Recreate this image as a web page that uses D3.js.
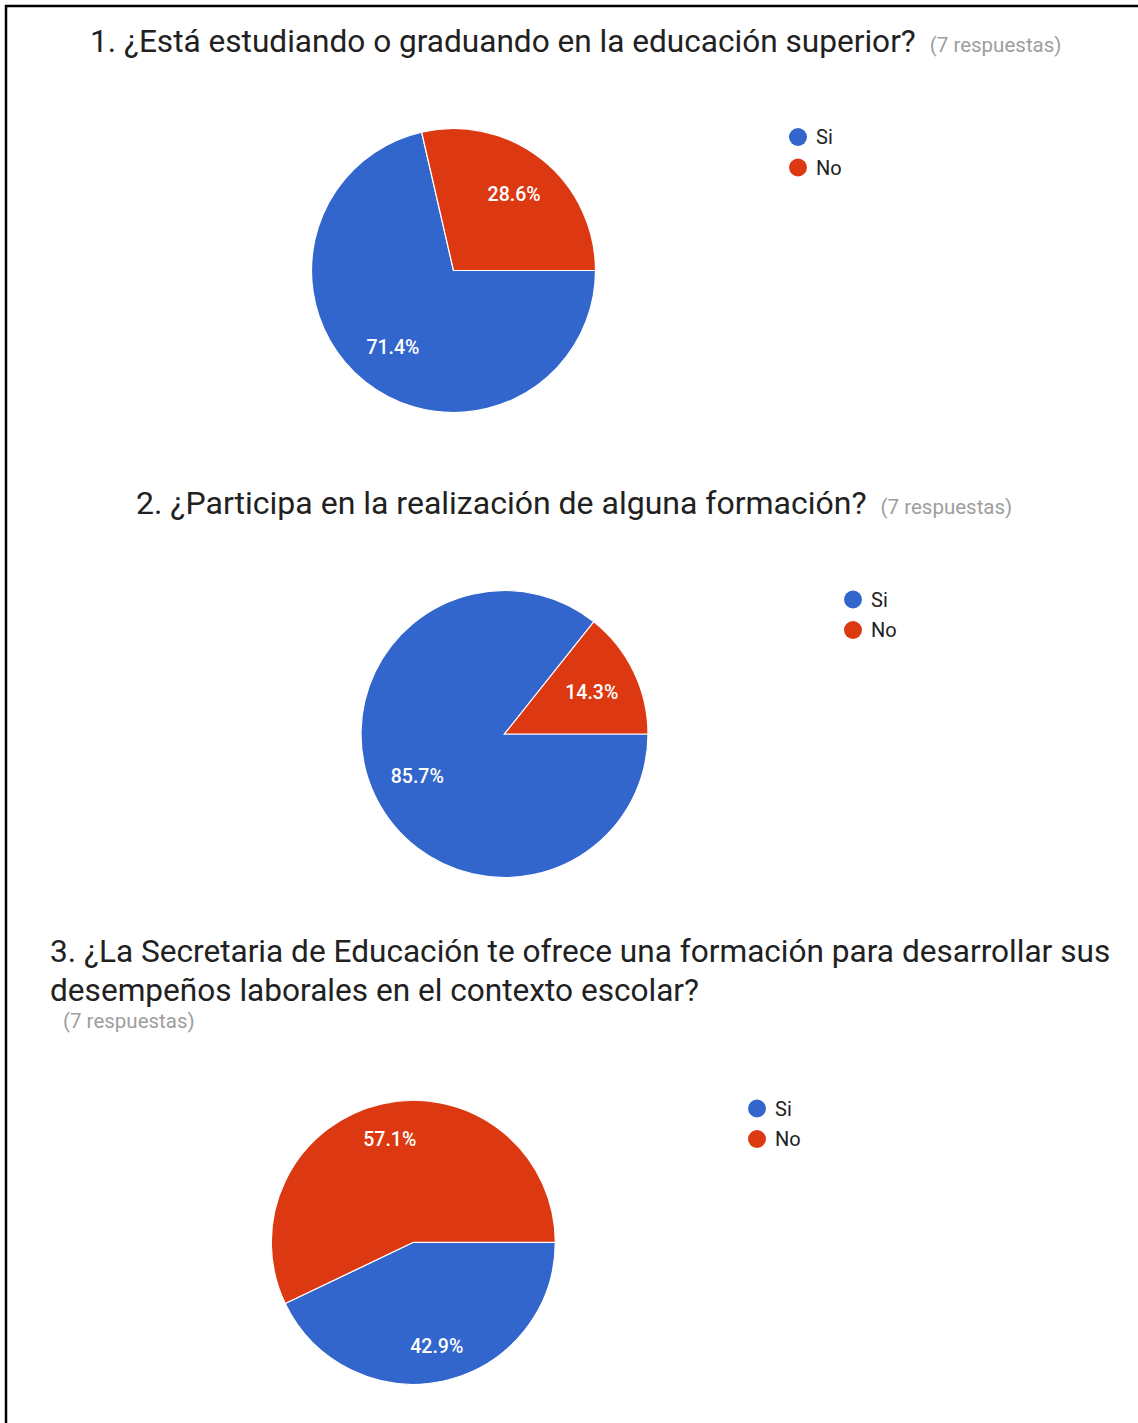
<!DOCTYPE html>
<html>
<head>
<meta charset="utf-8">
<script src="https://cdn.jsdelivr.net/npm/d3@7"></script>
<style>
  html, body { margin: 0; padding: 0; background: #fff; }
  svg { display: block; }
</style>
</head>
<body>
<svg id="chart" width="1138" height="1423"></svg>
<script>
// Survey answers: share of respondents (percent) per question
const categories = ["Si", "No"];
const questionLines = [
  ["1. ¿Está estudiando o graduando en la educación superior?"],
  ["2. ¿Participa en la realización de alguna formación?"],
  ["3. ¿La Secretaria de Educación te ofrece una formación para desarrollar sus",
   "desempeños laborales en el contexto escolar?"]
];
const responseCounts = [7, 7, 7];
const siValues = [71.4, 85.7, 42.9];
const noValues = [28.6, 14.3, 57.1];

const colors = d3.scaleOrdinal().domain(categories).range(["#3366cc", "#dc3912"]);

// Placement of each question block
const layout = [
  { titleX: 90, titleY: 52, titleSize: 31.6, countInline: true, cx: 453.5, cy: 270.5, r: 142, labelFrac: 0.685, legendX: 798, legendY: 137 },
  { titleX: 136, titleY: 514, titleSize: 32, countInline: true, cx: 504.5, cy: 734, r: 143.5, labelFrac: 0.675, legendX: 853, legendY: 599.5 },
  { titleX: 50, titleY: 962, titleSize: 31.6, countInline: false, countX: 63, countY: 1028, cx: 413.3, cy: 1242.3, r: 142, labelFrac: 0.748, legendX: 757, legendY: 1108.5 }
];

const svg = d3.select("#chart");
const FONT = "Roboto, 'Noto Sans', Arial, sans-serif";

// Frame lines on the top and left edges
svg.append("line").attr("x1", 5).attr("x2", 1138).attr("y1", 6).attr("y2", 6)
  .attr("stroke", "#000").attr("stroke-width", 2.5);
svg.append("line").attr("x1", 6).attr("x2", 6).attr("y1", 5).attr("y2", 1423)
  .attr("stroke", "#000").attr("stroke-width", 2.5);

const pie = d3.pie().sort(null)
  .startAngle(Math.PI / 2).endAngle(Math.PI / 2 + 2 * Math.PI)
  .value(d => d.value);

questionLines.forEach((lines, i) => {
  const L = layout[i];
  const countText = `(${responseCounts[i]} respuestas)`;
  const g = svg.append("g");

  // Question title
  const title = g.append("text")
    .attr("font-family", FONT).attr("font-size", L.titleSize).attr("fill", "#212121");
  lines.forEach((line, k) => {
    title.append("tspan").attr("x", L.titleX).attr("y", L.titleY + k * 39).text(line);
  });
  if (L.countInline) {
    title.append("tspan").attr("dx", 14).attr("font-size", 20.5).attr("fill", "#9e9e9e").text(countText);
  } else {
    g.append("text").attr("x", L.countX).attr("y", L.countY)
      .attr("font-family", FONT).attr("font-size", 20.5).attr("fill", "#9e9e9e").text(countText);
  }

  // Pie
  const data = categories.map((c, k) => ({ category: c, value: [siValues[i], noValues[i]][k] }));
  const arcs = pie(data);
  const arc = d3.arc().innerRadius(0).outerRadius(L.r);
  const labelArc = d3.arc().innerRadius(L.r * L.labelFrac).outerRadius(L.r * L.labelFrac);
  const pg = g.append("g").attr("transform", `translate(${L.cx},${L.cy})`);

  pg.selectAll("path").data(arcs).join("path")
    .attr("d", arc)
    .attr("fill", d => colors(d.data.category))
    .attr("stroke", "#fff").attr("stroke-width", 1.2);

  pg.selectAll("text").data(arcs).join("text")
    .attr("transform", d => `translate(${labelArc.centroid(d)})`)
    .attr("text-anchor", "middle").attr("dy", "0.36em")
    .attr("font-family", FONT).attr("font-size", 19.5).attr("font-weight", 500)
    .attr("fill", "#fff")
    .text(d => d.data.value.toFixed(1) + "%");

  // Legend
  const lg = g.append("g").attr("transform", `translate(${L.legendX},${L.legendY})`);
  const item = lg.selectAll("g").data(categories).join("g")
    .attr("transform", (d, k) => `translate(0,${k * 30.5})`);
  item.append("circle").attr("r", 9).attr("fill", d => colors(d));
  item.append("text").attr("x", 18).attr("dy", "0.36em")
    .attr("font-family", FONT).attr("font-size", 20).attr("fill", "#222")
    .text(d => d);
});
</script>
</body>
</html>
